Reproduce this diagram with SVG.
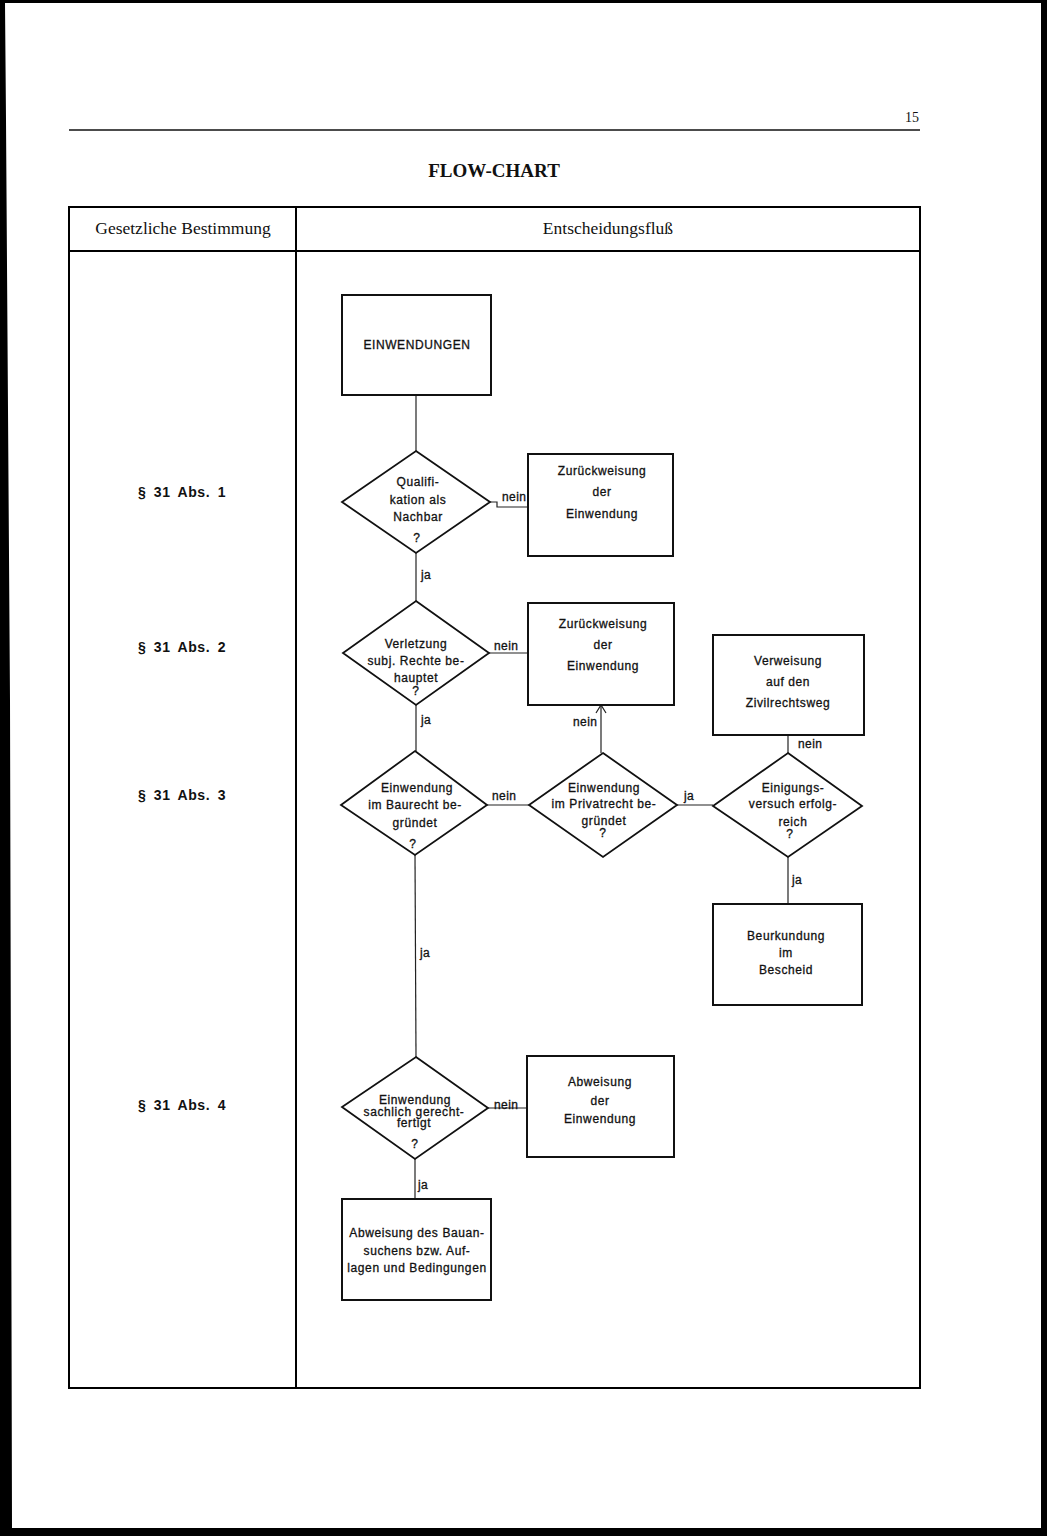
<svg xmlns="http://www.w3.org/2000/svg" width="1047" height="1536" viewBox="0 0 1047 1536">
<style>
.frame{fill:none;stroke:#000;stroke-width:2}
.box{fill:#fff;stroke:#111;stroke-width:2}
.dia{fill:#fff;stroke:#111;stroke-width:1.8}
.con{fill:none;stroke:#222;stroke-width:1.2}
.t{font-family:"Liberation Sans",Arial,sans-serif;font-size:12px;letter-spacing:0.6px;fill:#111;stroke:#111;stroke-width:0.3;text-anchor:middle}
.lbl{font-family:"Liberation Sans",Arial,sans-serif;font-size:12px;letter-spacing:0.4px;fill:#111;stroke:#111;stroke-width:0.3}
.par{font-family:"Liberation Sans",Arial,sans-serif;font-size:14px;font-weight:bold;letter-spacing:0.6px;word-spacing:3px;fill:#111;text-anchor:middle}
.hdr{font-family:"Liberation Serif","Times New Roman",serif;font-size:17.5px;fill:#111;text-anchor:middle}
</style>
<rect x="0" y="0" width="1047" height="1536" fill="#000"/>
<polygon points="5,3 1041,3 1041,1528 12,1528 11,1100 10,700 6,120" fill="#fff"/>

<g id="page-header">
<text x="919" y="122" font-family="Liberation Serif,serif" font-size="14" text-anchor="end" fill="#111">15</text>
<line x1="69" y1="130" x2="920" y2="130" stroke="#111" stroke-width="1.5"/>
<text x="494" y="177" font-family="Liberation Serif,serif" font-size="19" font-weight="bold" text-anchor="middle" fill="#111">FLOW-CHART</text>
</g>

<g id="table">
<rect class="frame" x="69" y="207" width="851" height="1181"/>
<line class="frame" x1="69" y1="251" x2="920" y2="251"/>
<line class="frame" x1="296" y1="207" x2="296" y2="1388"/>
<text class="hdr" x="183" y="234">Gesetzliche Bestimmung</text>
<text class="hdr" x="608" y="234" font-size="18">Entscheidungsfluß</text>
<text class="par" x="182" y="497">§ 31 Abs. 1</text>
<text class="par" x="182" y="652">§ 31 Abs. 2</text>
<text class="par" x="182" y="800">§ 31 Abs. 3</text>
<text class="par" x="182" y="1110">§ 31 Abs. 4</text>
</g>

<g id="connectors">
<line class="con" x1="416" y1="395" x2="416" y2="451"/>
<polyline class="con" points="490,502 497,502 497,507 528,507"/>
<line class="con" x1="416" y1="553" x2="416" y2="601"/>
<line class="con" x1="489" y1="653" x2="528" y2="653"/>
<line class="con" x1="416" y1="705" x2="416" y2="751"/>
<line class="con" x1="601" y1="753" x2="601" y2="706"/>
<polyline class="con" points="596,713 601,705 606,713"/>
<line class="con" x1="788" y1="753" x2="788" y2="735"/>
<line class="con" x1="487" y1="805" x2="529" y2="805"/>
<line class="con" x1="677" y1="805" x2="713" y2="805"/>
<line class="con" x1="788" y1="857" x2="788" y2="904"/>
<line class="con" x1="415" y1="855" x2="416" y2="1057"/>
<line class="con" x1="488" y1="1108" x2="527" y2="1108"/>
<line class="con" x1="415" y1="1159" x2="415" y2="1199"/>
<text class="lbl" x="502" y="501">nein</text>
<text class="lbl" x="421" y="579">ja</text>
<text class="lbl" x="494" y="650">nein</text>
<text class="lbl" x="421" y="724">ja</text>
<text class="lbl" x="573" y="726">nein</text>
<text class="lbl" x="798" y="748">nein</text>
<text class="lbl" x="492" y="800">nein</text>
<text class="lbl" x="684" y="800">ja</text>
<text class="lbl" x="792" y="884">ja</text>
<text class="lbl" x="420" y="957">ja</text>
<text class="lbl" x="494" y="1109">nein</text>
<text class="lbl" x="418" y="1189">ja</text>
</g>

<g id="n-einwendungen">
<rect class="box" x="342" y="295" width="149" height="100"/>
<text class="t" x="417" y="349" letter-spacing="1.2">EINWENDUNGEN</text>
</g>

<g id="d-qualifikation">
<polygon class="dia" points="416,451 490,502 416,553 342,502"/>
<text class="t" x="418" y="486">Qualifi-</text>
<text class="t" x="418" y="504">kation als</text>
<text class="t" x="418" y="521">Nachbar</text>
<text class="t" x="417" y="542">?</text>
</g>

<g id="n-zurueck1">
<rect class="box" x="528" y="454" width="145" height="102"/>
<text class="t" x="602" y="475">Zurückweisung</text>
<text class="t" x="602" y="496">der</text>
<text class="t" x="602" y="518">Einwendung</text>
</g>

<g id="d-verletzung">
<polygon class="dia" points="416,601 489,653 416,705 343,653"/>
<text class="t" x="416" y="648">Verletzung</text>
<text class="t" x="416" y="665">subj. Rechte be-</text>
<text class="t" x="416" y="682">hauptet</text>
<text class="t" x="416" y="695">?</text>
</g>

<g id="n-zurueck2">
<rect class="box" x="528" y="603" width="146" height="102"/>
<text class="t" x="603" y="628">Zurückweisung</text>
<text class="t" x="603" y="649">der</text>
<text class="t" x="603" y="670">Einwendung</text>
</g>

<g id="n-verweisung">
<rect class="box" x="713" y="635" width="151" height="100"/>
<text class="t" x="788" y="665">Verweisung</text>
<text class="t" x="788" y="686">auf den</text>
<text class="t" x="788" y="707">Zivilrechtsweg</text>
</g>

<g id="d-baurecht">
<polygon class="dia" points="415,751 487,805 415,855 341,805"/>
<text class="t" x="417" y="792">Einwendung</text>
<text class="t" x="415" y="809">im Baurecht be-</text>
<text class="t" x="415" y="827">gründet</text>
<text class="t" x="413" y="848">?</text>
</g>

<g id="d-privatrecht">
<polygon class="dia" points="603,753 677,805 603,857 529,805"/>
<text class="t" x="604" y="792">Einwendung</text>
<text class="t" x="604" y="808">im Privatrecht be-</text>
<text class="t" x="604" y="825">gründet</text>
<text class="t" x="603" y="837">?</text>
</g>

<g id="d-einigung">
<polygon class="dia" points="788,753 862,806 788,857 713,806"/>
<text class="t" x="793" y="792">Einigungs-</text>
<text class="t" x="793" y="808">versuch erfolg-</text>
<text class="t" x="793" y="826">reich</text>
<text class="t" x="790" y="838">?</text>
</g>

<g id="n-beurkundung">
<rect class="box" x="713" y="904" width="149" height="101"/>
<text class="t" x="786" y="940">Beurkundung</text>
<text class="t" x="786" y="957">im</text>
<text class="t" x="786" y="974">Bescheid</text>
</g>

<g id="d-sachlich">
<polygon class="dia" points="416,1057 488,1108 415,1159 342,1107"/>
<text class="t" x="415" y="1104">Einwendung</text>
<text class="t" x="414" y="1116">sachlich gerecht-</text>
<text class="t" x="414" y="1127">fertigt</text>
<text class="t" x="415" y="1148">?</text>
</g>

<g id="n-abweisung">
<rect class="box" x="527" y="1056" width="147" height="101"/>
<text class="t" x="600" y="1086">Abweisung</text>
<text class="t" x="600" y="1105">der</text>
<text class="t" x="600" y="1123">Einwendung</text>
</g>

<g id="n-bauansuchen">
<rect class="box" x="342" y="1199" width="149" height="101"/>
<text class="t" x="417" y="1237">Abweisung des Bauan-</text>
<text class="t" x="417" y="1255">suchens bzw. Auf-</text>
<text class="t" x="417" y="1272">lagen und Bedingungen</text>
</g>
</svg>
